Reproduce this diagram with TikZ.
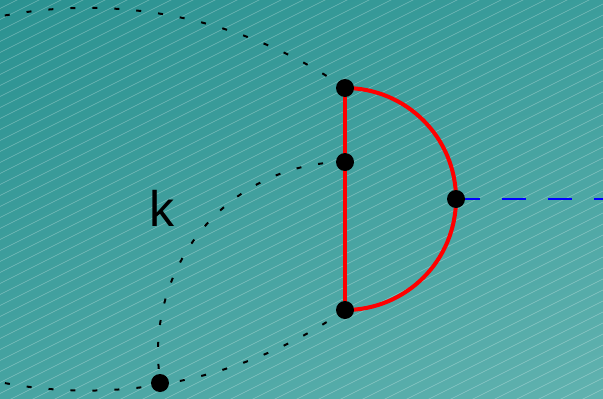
\documentclass[tikz,border=0pt]{standalone}
\usepackage{fontspec}
\setmainfont{Liberation Sans}
\usetikzlibrary{shadings}
\definecolor{bgTL}{HTML}{2B9291}
\definecolor{bgTR}{HTML}{3B9D9B}
\definecolor{bgBL}{HTML}{47A4A2}
\definecolor{bgBR}{HTML}{61B2AF}
\tikzset{
  dotcurve/.style={black, line width=2pt, dash pattern=on 5pt off 17pt},
  redline/.style={red, line width=4pt},
  blueline/.style={blue, line width=2pt, dash pattern=on 24pt off 22pt},
  vertexdot/.style={circle, fill=black, inner sep=0pt, minimum size=18pt},
  hatchline/.style={white, opacity=0.32, line width=0.6pt}
}
\begin{document}
\begin{tikzpicture}[x=1pt,y=-1pt]
\useasboundingbox (0,0) rectangle (603,399);
\shade[upper left=bgTL, upper right=bgTR, lower left=bgBL, lower right=bgBR] (0,0) rectangle (603,399);
\begin{scope}
  \clip (0,0) rectangle (603,399);
  \foreach \k in {0,...,66} {
    \draw[hatchline] (-5,\k*11) -- (610,\k*11-307.5);
  }
\end{scope}
% named vertices (positions)
\coordinate (tp) at (345,88);
\coordinate (md) at (345,162);
\coordinate (bt) at (345,310);
\coordinate (rt) at (456,199);
\coordinate (kd) at (160,383);
\coordinate (edge) at (603,199);
% dotted curves
\draw[dotcurve] (tp) arc[start angle=-55.4, end angle=-101, radius=453];
\draw[dotcurve] (bt) arc[start angle=55.3, end angle=101, radius=453];
\draw[dotcurve] (md) arc[start angle=-90, end angle=-189.4, x radius=187, y radius=190];
% blue dashed
\draw[blueline] (rt) -- (edge);
% red
\draw[redline] (tp) -- (bt);
\draw[redline] (tp) arc[start angle=-90, end angle=90, radius=111];
% dots
\node[vertexdot] (ntp) at (tp) {};
\node[vertexdot] (nmd) at (md) {};
\node[vertexdot] (nbt) at (bt) {};
\node[vertexdot] (nrt) at (rt) {};
\node[vertexdot] (nkd) at (kd) {};
\node[anchor=base, inner sep=0pt, font=\fontsize{50}{50}\selectfont] (klabel) at (161.5,226) {k};
\end{tikzpicture}
\end{document}
